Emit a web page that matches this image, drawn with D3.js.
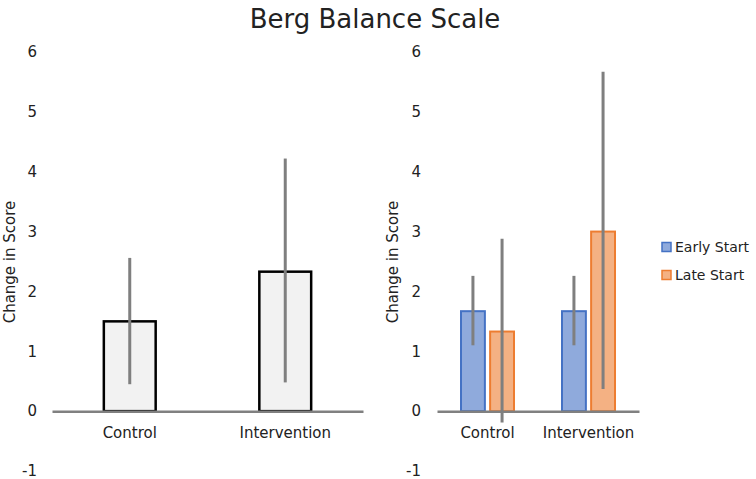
<!DOCTYPE html>
<html>
<head>
<meta charset="utf-8">
<script src="https://cdn.jsdelivr.net/npm/d3@7"></script>
<style>
  body { margin: 0; background: #fff; }
  svg text { font-family: 'Century Gothic', 'DejaVu Sans', sans-serif; fill: #222; }
</style>
</head>
<body>
<div id="chart"></div>
<script>
// data
var categories = ['Control', 'Intervention'];
var yTicks = [-1, 0, 1, 2, 3, 4, 5, 6];

// left panel: all participants
var allMeans = [1.5, 2.33];
var allLow = [0.45, 0.48];
var allHigh = [2.56, 4.22];

// right panel: split by start
var seriesNames = ['Early Start', 'Late Start'];
var earlyMeans = [1.67, 1.67];
var earlyLow = [1.1, 1.1];
var earlyHigh = [2.26, 2.26];
var lateMeans = [1.33, 3.0];
var lateLow = [-0.19, 0.37];
var lateHigh = [2.88, 5.67];

var seriesFill = ['#8faadc', '#f4b183'],
    seriesStroke = ['#4472c4', '#ed7d31'];

var width = 756, height = 479;
var svg = d3.select('#chart').append('svg')
    .attr('width', width)
    .attr('height', height);

svg.append('text')
    .attr('x', 375).attr('y', 28)
    .attr('text-anchor', 'middle')
    .style('font-size', '26px')
    .text('Berg Balance Scale');

var y = d3.scaleLinear().domain([-1, 6]).range([471, 52]);

var drawPanel = function (left, right, tickX, labelX) {
    var x = d3.scaleBand().domain(categories).range([left, right]).paddingInner(0).paddingOuter(0);

    var yAxis = svg.append('g')
        .attr('transform', 'translate(' + tickX + ',0)')
        .call(d3.axisLeft(y).tickValues(yTicks).tickSize(0).tickPadding(0)
            .tickFormat(function (d) { return String(d); }));
    yAxis.select('.domain').remove();
    yAxis.selectAll('text').style('font-size', '15px').style('font-family', null).attr('dy', '0.32em');

    svg.append('text')
        .attr('transform', 'translate(' + labelX + ',' + 262 + ') rotate(-90)')
        .attr('text-anchor', 'middle')
        .attr('dy', '0.35em')
        .style('font-size', '15px')
        .text('Change in Score');

    return x;
};

var drawXAxis = function (x) {
    var g = svg.append('g')
        .attr('transform', 'translate(0,' + y(0) + ')')
        .call(d3.axisBottom(x).tickSize(0).tickSizeOuter(0).tickPadding(16));
    g.select('.domain').attr('stroke', '#808080').attr('stroke-width', 2.5);
    g.selectAll('text').style('font-size', '15px').style('font-family', null);
};

var errBar = function (cx, lo, hi) {
    svg.append('line')
        .attr('x1', cx).attr('x2', cx)
        .attr('y1', y(lo)).attr('y2', y(hi))
        .attr('stroke', '#7f7f7f')
        .attr('stroke-width', 3);
};

// left panel
var xL = drawPanel(52, 363, 37, 10);
var bwL = xL.bandwidth() / 3;
svg.selectAll('.barL')
    .data(allMeans)
    .enter().append('rect')
    .attr('class', 'barL')
    .attr('x', function (d, i) { return xL(categories[i]) + xL.bandwidth() / 2 - bwL / 2; })
    .attr('y', function (d) { return y(d); })
    .attr('width', bwL)
    .attr('height', function (d) { return y(0) - y(d); })
    .attr('fill', '#f2f2f2')
    .attr('stroke', '#000')
    .attr('stroke-width', 2.5);
drawXAxis(xL);
allMeans.forEach(function (d, i) {
    errBar(xL(categories[i]) + xL.bandwidth() / 2, allLow[i], allHigh[i]);
});

// right panel
var xR = drawPanel(437, 639, 421, 393);
var x1 = d3.scaleBand().domain(seriesNames).range([-26.5, 26.5]).paddingInner(0.18);
var seriesMeans = [earlyMeans, lateMeans],
    seriesLow = [earlyLow, lateLow],
    seriesHigh = [earlyHigh, lateHigh];

seriesNames.forEach(function (s, si) {
    svg.selectAll('.bar' + si)
        .data(seriesMeans[si])
        .enter().append('rect')
        .attr('class', 'bar' + si)
        .attr('x', function (d, i) { return xR(categories[i]) + xR.bandwidth() / 2 + x1(s); })
        .attr('y', function (d) { return y(d); })
        .attr('width', x1.bandwidth())
        .attr('height', function (d) { return y(0) - y(d); })
        .attr('fill', seriesFill[si])
        .attr('stroke', seriesStroke[si])
        .attr('stroke-width', 2);
});
drawXAxis(xR);
seriesNames.forEach(function (s, si) {
    seriesMeans[si].forEach(function (d, i) {
        errBar(xR(categories[i]) + xR.bandwidth() / 2 + x1(s) + x1.bandwidth() / 2, seriesLow[si][i], seriesHigh[si][i]);
    });
});

// legend
var legend = svg.selectAll('.legend')
    .data(seriesNames)
    .enter().append('g')
    .attr('class', 'legend')
    .attr('transform', function (d, i) { return 'translate(662,' + (247 + i * 28) + ')'; });
legend.append('rect')
    .attr('x', 0).attr('y', -4.5)
    .attr('width', 9).attr('height', 9)
    .attr('fill', function (d, i) { return seriesFill[i]; })
    .attr('stroke', function (d, i) { return seriesStroke[i]; })
    .attr('stroke-width', 1.5);
legend.append('text')
    .attr('x', 13).attr('dy', '0.35em')
    .style('font-size', '14px')
    .text(function (d) { return d; });
</script>
</body>
</html>
